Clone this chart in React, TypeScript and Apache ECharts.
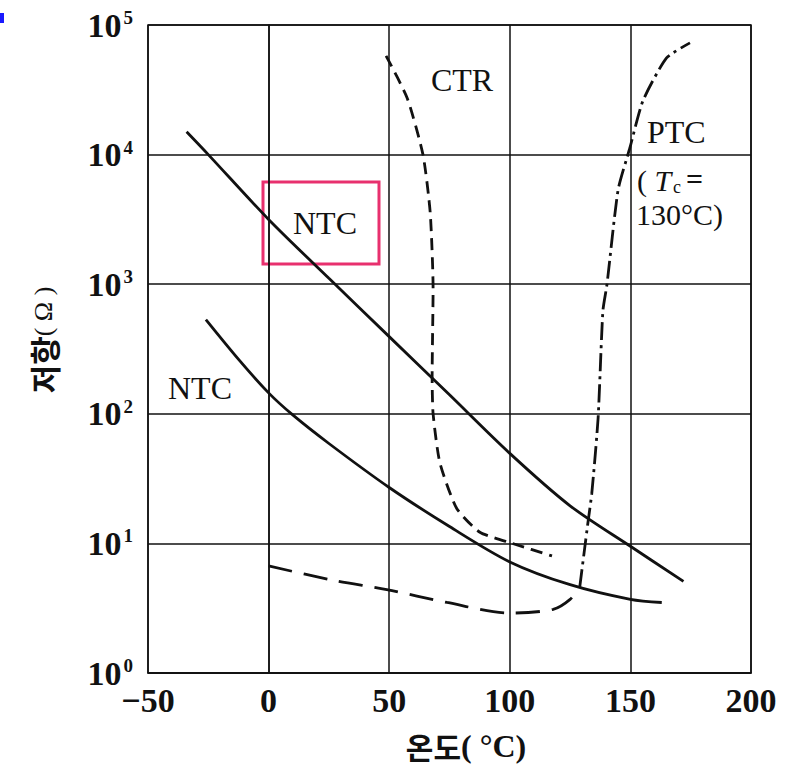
import { useEffect, useRef } from "react";
import * as echarts from "echarts";

// Temperature (°C) vs resistance (Ω)
const xTicks = [-50, 0, 50, 100, 150, 200];
const yExponents = [0, 1, 2, 3, 4, 5];

const ntcUpper: [number, number][] = [
  [-34, 15000], [-25, 10000], [0, 3160], [25, 1110], [50, 394], [75, 140],
  [100, 49.5], [125, 19.5], [150, 9.5], [172, 5.1],
];
const ntcLower: [number, number][] = [
  [-26, 533], [-12, 257], [0, 145], [10, 98], [25, 59], [50, 27], [75, 13.5],
  [100, 7.2], [125, 4.8], [150, 3.7], [163, 3.5],
];
const ctr: [number, number][] = [
  [48.7, 57800], [57.4, 27500], [64, 10000], [67, 3570], [68.2, 930], [67.8, 194],
  [68.2, 100], [71, 42], [78, 18.6], [87.6, 12.2], [101, 10], [117.5, 8.0],
];
const ptcLow: [number, number][] = [
  [0, 6.7], [26.7, 5.2], [49, 4.4], [74, 3.5], [100, 2.9], [118, 3.1],
  [125, 3.7], [129, 4.6],
];
const ptcHigh: [number, number][] = [
  [129, 4.6], [132.4, 14.5], [134, 24.4], [136.6, 92], [138.6, 624], [140.3, 1000],
  [144.9, 5340], [149.8, 11300], [155.2, 26000], [165, 55700], [174.7, 72800],
];

const SERIF = "'Liberation Serif', 'DejaVu Serif', serif";
const KR = "'Noto Sans CJK KR', sans-serif";
const INK = "#111";
const LW = 2.8;

export default function App() {
  const ref = useRef<HTMLDivElement>(null);
  useEffect(() => {
    const chart = echarts.init(ref.current!, null, { renderer: "svg" });
    const lineBase = { type: "line", symbol: "none", silent: true };
    chart.setOption({
      animation: false,
      backgroundColor: "#fff",
      grid: { left: 148, top: 25, right: 44, bottom: 94, show: true, borderColor: INK, borderWidth: 1.5 },
      xAxis: {
        type: "value", min: -50, max: 200, interval: 50,
        axisLine: { show: true, lineStyle: { color: INK, width: 1.5 } },
        axisTick: { show: false },
        splitLine: { show: true, lineStyle: { color: INK, width: 1.5 } },
        axisLabel: {
          margin: 10, color: INK, fontFamily: SERIF, fontSize: 34, fontWeight: "bold",
          formatter: (v: number) => (xTicks.includes(v) ? (v < 0 ? "−" + Math.abs(v) : String(v)) : ""),
        },
      },
      yAxis: {
        type: "log", logBase: 10, min: 1, max: 100000, splitNumber: 5,
        axisLine: { show: true, lineStyle: { color: INK, width: 1.5 } },
        axisTick: { show: false },
        minorTick: { show: false },
        splitLine: { show: true, lineStyle: { color: INK, width: 1.5 } },
        axisLabel: {
          margin: 15, color: INK,
          formatter: (v: number) => {
            const e = Math.round(Math.log10(v));
            return yExponents.includes(e) ? `{b|10}{s|${e}}` : "";
          },
          rich: {
            b: { fontFamily: SERIF, fontSize: 34, fontWeight: "bold", color: INK, lineHeight: 34 },
            s: { fontFamily: SERIF, fontSize: 19, fontWeight: "bold", color: INK, verticalAlign: "top", lineHeight: 34, padding: [0, 0, 14, 2] },
          },
        },
      },
      series: [
        { ...lineBase, name: "NTC", data: ntcUpper, smooth: 0.3, lineStyle: { color: INK, width: LW } },
        { ...lineBase, name: "NTC 2", data: ntcLower, smooth: 0.3, lineStyle: { color: INK, width: LW } },
        { ...lineBase, name: "CTR", data: ctr, smooth: 0.2, lineStyle: { color: INK, width: LW, type: [12, 7] } },
        { ...lineBase, name: "PTC", data: ptcLow, smooth: 0.3, lineStyle: { color: INK, width: LW, type: [24, 12] } },
        { ...lineBase, name: "PTC ", data: ptcHigh, smooth: 0.2, lineStyle: { color: INK, width: LW, type: [18, 5, 3, 5] } },
      ],
      graphic: [
        { type: "rect", left: 0, top: 13, shape: { width: 4, height: 10 }, style: { fill: "#1a1aff" } },
        { type: "rect", shape: { x: 263, y: 182, width: 116, height: 82 }, style: { fill: "none", stroke: "#e8306e", lineWidth: 3 } },
        { type: "text", x: 325, y: 223, style: { text: "NTC", font: `32px ${SERIF}`, fill: INK, align: "center", verticalAlign: "middle" } },
        { type: "text", x: 200, y: 388, style: { text: "NTC", font: `32px ${SERIF}`, fill: INK, align: "center", verticalAlign: "middle" } },
        { type: "text", x: 462, y: 80, style: { text: "CTR", font: `32px ${SERIF}`, fill: INK, align: "center", verticalAlign: "middle" } },
        { type: "text", x: 647, y: 132, style: { text: "PTC", font: `32px ${SERIF}`, fill: INK, align: "left", verticalAlign: "middle" } },
        {
          type: "text", x: 637, y: 180,
          style: {
            text: "{n|( }{it|T}", align: "left", verticalAlign: "middle",
            rich: {
              n: { font: `30px ${SERIF}`, fill: INK, lineHeight: 26 },
              it: { font: `italic 30px ${SERIF}`, fill: INK, lineHeight: 26 },
            },
          },
        },
        { type: "text", x: 673, y: 187, style: { text: "c", font: `18px ${SERIF}`, fill: INK, align: "left", verticalAlign: "middle", lineHeight: 14 } },
        { type: "text", x: 686, y: 178, style: { text: "=", font: `bold 30px ${SERIF}`, fill: INK, align: "left", verticalAlign: "middle", lineHeight: 20 } },
        { type: "text", x: 636, y: 214, style: { text: "130°C)", font: `30px ${SERIF}`, fill: INK, align: "left", verticalAlign: "middle", lineHeight: 26 } },
        {
          type: "text", x: 466, y: 746,
          style: {
            text: "{k|온도}{p|( °C)}", align: "center", verticalAlign: "middle",
            rich: {
              k: { font: `bold 30px ${KR}`, fill: INK, lineHeight: 30 },
              p: { font: `bold 32px ${SERIF}`, fill: INK, lineHeight: 30 },
            },
          },
        },
        {
          type: "text", x: 43, y: 340, rotation: Math.PI / 2,
          style: {
            text: "{k|저항}{p|( Ω )}", align: "center", verticalAlign: "middle",
            rich: {
              k: { font: `bold 31px ${KR}`, fill: INK, lineHeight: 34 },
              p: { font: `26px ${SERIF}`, fill: INK, lineHeight: 34 },
            },
          },
        },
      ],
    });
    return () => chart.dispose();
  }, []);
  return (
    <div
      ref={ref}
      style={{ position: "fixed", left: 0, top: 0, width: 795, height: 767, background: "#fff" }}
    />
  );
}
